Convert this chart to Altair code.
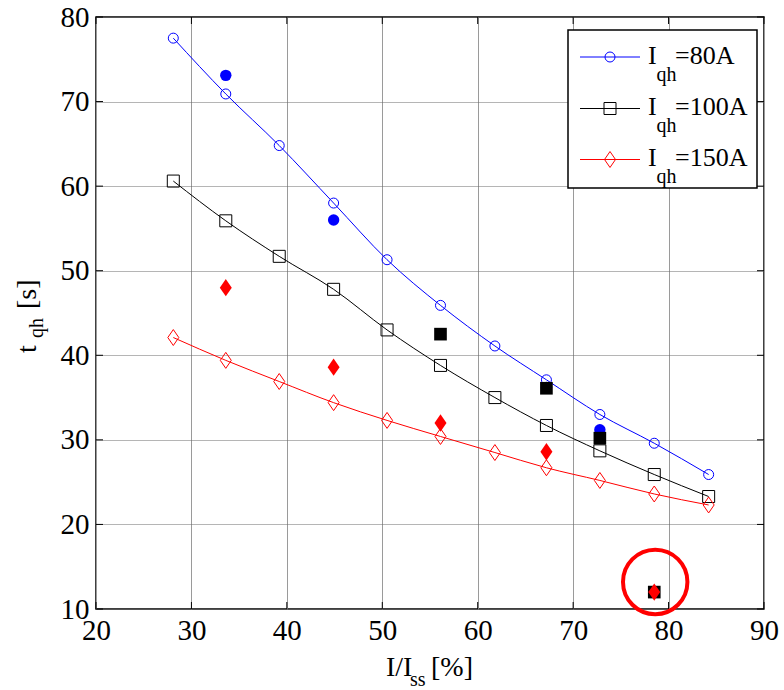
import altair as alt
import pandas as pd

# Quench-heater delay time versus current fraction
ratio = [28.1, 33.6, 39.2, 44.9, 50.5, 56.1, 61.8, 67.2, 72.8, 78.5, 84.2]
t_80 = [77.5, 70.9, 64.8, 58.0, 51.3, 45.9, 41.1, 37.1, 33.0, 29.6, 25.9]
t_100 = [60.6, 55.9, 51.7, 47.8, 43.0, 38.8, 35.0, 31.7, 28.7, 25.9, 23.3]
t_150 = [42.1, 39.4, 36.9, 34.4, 32.3, 30.4, 28.5, 26.7, 25.2, 23.6, 22.3]

# Measured points (filled markers)
meas80_x = [33.6, 44.9, 67.2, 72.8]
meas80_y = [73.1, 56.0, 36.2, 31.2]
meas100_x = [56.1, 67.2, 72.8, 78.5]
meas100_y = [42.5, 36.1, 30.2, 12.0]
meas150_x = [33.6, 44.9, 56.1, 67.2, 78.5]
meas150_y = [48.0, 38.6, 32.0, 28.6, 12.0]

# Highlighted outlier
highlight_x = [78.6]
highlight_y = [13.2]

x_ticks = [20, 30, 40, 50, 60, 70, 80, 90]
y_ticks = [10, 20, 30, 40, 50, 60, 70, 80]

series_labels = ["=80A", "=100A", "=150A"]

FONT = "Liberation Serif"
BLUE, BLACK, RED = "#0000ff", "#000000", "#ff0000"
DIAMOND = "M0,-1.45L1,0L0,1.45L-1,0Z"

# plot-area origin on the page
OX, OY = 96, 17
W, H = 668, 592

xs = alt.Scale(domain=[20, 90], nice=False, zero=False)
ys = alt.Scale(domain=[10, 80], nice=False, zero=False)
x_axis = alt.Axis(values=x_ticks, grid=True, gridColor="#9a9a9a", gridWidth=1,
                  ticks=False, tickSize=0, domain=False, labelPadding=7,
                  labelFlush=False, labelOverlap=False, format="d", title=None,
                  labelFont=FONT, labelFontSize=29, labelColor="black")
y_axis = alt.Axis(values=y_ticks, grid=True, gridColor="#6a6a6a", gridWidth=1,
                  gridDash=[1, 1], ticks=False, tickSize=0, domain=False,
                  labelPadding=7, labelFlush=False, labelOverlap=False,
                  format="d", title=None,
                  labelFont=FONT, labelFontSize=29, labelColor="black")


def X(field="x"):
    return alt.X(f"{field}:Q", scale=xs, axis=x_axis)


def Y(field="y"):
    return alt.Y(f"{field}:Q", scale=ys, axis=y_axis)


def frame(xv, yv):
    return pd.DataFrame({"x": xv, "y": yv})


def curve(yv, color, shape, size):
    d = frame(ratio, yv)
    line = alt.Chart(d).mark_line(color=color, strokeWidth=1, interpolate="monotone").encode(x=X(), y=Y())
    pts = alt.Chart(d).mark_point(shape=shape, size=size, color=color, filled=False,
                                  strokeWidth=1, opacity=1).encode(x=X(), y=Y())
    return line, pts


def measured(xv, yv, color, shape, size):
    return alt.Chart(frame(xv, yv)).mark_point(shape=shape, size=size, color=color,
                                               filled=True, opacity=1).encode(x=X(), y=Y())


def txt(s, px, py, size, angle=None, align="left"):
    kw = dict(font=FONT, fontSize=size, align=align, baseline="alphabetic", color="black")
    if angle is not None:
        kw["angle"] = angle
    return alt.Chart(pd.DataFrame({"s": [s]})).mark_text(**kw).encode(
        x=alt.value(px - OX), y=alt.value(py - OY), text="s:N")


layers = []

# inward ticks on all four sides
xt = pd.DataFrame({"x": x_ticks})
yt = pd.DataFrame({"y": y_ticks})
layers.append(alt.Chart(xt).mark_rule(color="black", strokeWidth=1).encode(x=X(), y=alt.value(H), y2=alt.value(H - 7)))
layers.append(alt.Chart(xt).mark_rule(color="black", strokeWidth=1).encode(x=X(), y=alt.value(0), y2=alt.value(7)))
layers.append(alt.Chart(yt).mark_rule(color="black", strokeWidth=1).encode(y=Y(), x=alt.value(0), x2=alt.value(7)))
layers.append(alt.Chart(yt).mark_rule(color="black", strokeWidth=1).encode(y=Y(), x=alt.value(W), x2=alt.value(W - 7)))

l80, p80 = curve(t_80, BLUE, "circle", 100)
l100, p100 = curve(t_100, BLACK, "square", 144)
l150, p150 = curve(t_150, RED, DIAMOND, 121)
layers += [l80, l100, l150, p80, p100, p150]

layers.append(measured(meas80_x, meas80_y, BLUE, "circle", 130))
layers.append(measured(meas100_x, meas100_y, BLACK, "square", 160))
layers.append(measured(meas150_x, meas150_y, RED, DIAMOND, 144))

# red ring around the outlier
layers.append(alt.Chart(frame(highlight_x, highlight_y)).mark_point(
    shape="circle", size=4150, color=RED, filled=False, strokeWidth=4, opacity=1
).encode(x=X(), y=Y()))

# legend box
one = pd.DataFrame({"k": [0]})
layers.append(alt.Chart(one).mark_rect(fill="white", stroke="black", strokeWidth=1.5).encode(
    x=alt.value(568 - OX), x2=alt.value(757 - OX), y=alt.value(30 - OY), y2=alt.value(188 - OY)))

legend_rows = [(57, BLUE, "circle", 100), (108.5, BLACK, "square", 144), (159.5, RED, DIAMOND, 121)]
for (ry, col, shp, sz), lab in zip(legend_rows, series_labels):
    layers.append(alt.Chart(one).mark_rule(color=col, strokeWidth=1).encode(
        x=alt.value(580 - OX), x2=alt.value(640 - OX), y=alt.value(ry - OY)))
    layers.append(alt.Chart(one).mark_point(shape=shp, size=sz, color=col, filled=False,
                                            strokeWidth=1, opacity=1).encode(
        x=alt.value(610 - OX), y=alt.value(ry - OY)))
    layers.append(txt("I", 648, ry + 6.5, 26))
    layers.append(txt("qh", 656.5, ry + 23.5, 20))
    layers.append(txt(lab, 675, ry + 6.5, 26))

# axis titles with subscripts
layers.append(txt("I/I", 386, 676, 28))
layers.append(txt("ss", 410, 686, 20))
layers.append(txt("[%]", 431, 676, 28))

layers.append(txt("t", 36, 353, 28, angle=270))
layers.append(txt("qh", 43, 338, 20, angle=270))
layers.append(txt("[s]", 36, 309, 28, angle=270))

chart = alt.layer(*layers).properties(
    width=W, height=H,
    autosize=alt.AutoSizeParams(type="none"),
    padding={"left": OX, "top": OY, "right": 784 - OX - W, "bottom": 690 - OY - H},
    background="white",
).configure_view(
    stroke="black", strokeWidth=1.5
)

chart.save("out.html", embed_options={"renderer": "svg", "actions": False})
